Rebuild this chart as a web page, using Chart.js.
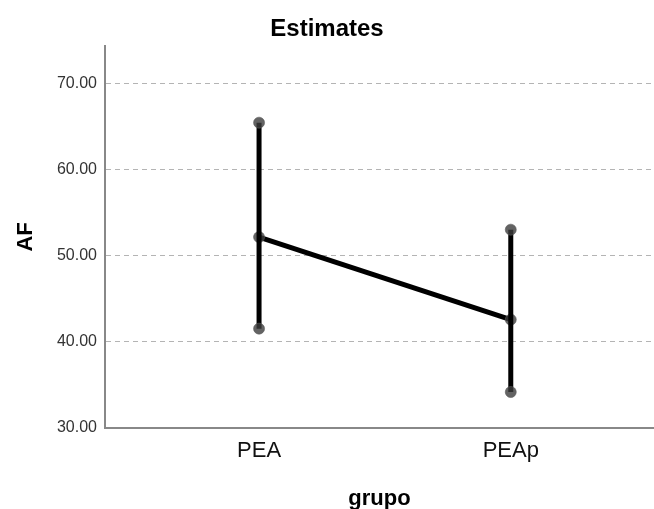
<!DOCTYPE html>
<html>
<head>
<meta charset="utf-8">
<script src="https://cdn.jsdelivr.net/npm/chart.js@4/dist/chart.umd.min.js"></script>
<style>
  html, body { margin: 0; padding: 0; background: #fff; }
  #wrap { width: 654px; height: 509px; }
</style>
</head>
<body>
<div id="wrap"><canvas id="estChart" width="654" height="509"></canvas></div>
<script>
// values
var groups = ['PEA', 'PEAp'];
var means = [52.18, 42.59];
var upper = [65.47, 53.04];
var lower = [41.54, 34.18];
var yTicks = [30, 40, 50, 60, 70];

document.addEventListener('DOMContentLoaded', function(){
    var font = '"Liberation Sans", Arial, Helvetica, sans-serif';
    var dotColor = 'rgba(60,60,60,0.8)';

    var datasets = [];
    // error bars, one per group
    groups.forEach(function(g, i){
        datasets.push({
            label: g + ' CI',
            data: [{x: i, y: lower[i]}, {x: i, y: upper[i]}],
            showLine: true,
            borderColor: '#000',
            borderWidth: 5,
            pointRadius: 5.5,
            pointBackgroundColor: dotColor,
            pointBorderColor: 'rgba(90,90,90,0.6)',
            pointBorderWidth: 1
        });
    });
    // line through the means
    datasets.push({
        label: 'Mean',
        data: groups.map(function(g, i){ return {x: i, y: means[i]}; }),
        showLine: true,
        borderColor: '#000',
        borderWidth: 5,
        pointRadius: 5.5,
        pointBackgroundColor: dotColor,
        pointBorderColor: 'rgba(90,90,90,0.6)',
        pointBorderWidth: 1
    });

    new Chart(document.getElementById('estChart'), {
        type: 'scatter',
        data: { datasets: datasets },
        options: {
            responsive: false,
            animation: false,
            layout: { padding: 0, autoPadding: false },
            plugins: {
                legend: { display: false },
                tooltip: { enabled: false },
                title: {
                    display: true,
                    text: 'Estimates',
                    color: '#000',
                    font: { family: font, size: 24, weight: 'bold' },
                    padding: { top: 15, bottom: 2 }
                }
            },
            scales: {
                x: {
                    type: 'linear',
                    min: -0.612,
                    max: 1.569,
                    afterFit: function(s){ s.height = 81; s.paddingLeft = 0; s.paddingRight = 0; },
                    grid: { display: false, drawTicks: false },
                    border: { color: '#888', width: 2 },
                    ticks: {
                        stepSize: 1,
                        includeBounds: false,
                        padding: 10,
                        color: '#111',
                        font: { family: font, size: 22 },
                        callback: function(v){ return groups[v] !== undefined && Number.isInteger(v) ? groups[v] : ''; }
                    },
                    title: {
                        display: true,
                        text: 'grupo',
                        color: '#000',
                        font: { family: font, size: 22, weight: 'bold' },
                        padding: { top: 16, bottom: -3 }
                    }
                },
                y: {
                    min: yTicks[0],
                    max: 74.4,
                    afterFit: function(s){ s.width = 105; },
                    afterBuildTicks: function(s){ s.ticks = yTicks.map(function(v){ return {value: v}; }); },
                    grid: {
                        drawTicks: false,
                        color: function(c){ return c.tick && c.tick.value === yTicks[0] ? 'rgba(0,0,0,0)' : '#b4b4b4'; },
                        lineWidth: 1
                    },
                    border: { color: '#888', width: 2, dash: [5, 4] },
                    ticks: {
                        padding: 8,
                        color: '#333',
                        font: { family: font, size: 16 },
                        callback: function(v){ return Number(v).toFixed(2); }
                    },
                    title: {
                        display: true,
                        text: 'AF',
                        color: '#000',
                        font: { family: font, size: 22, weight: 'bold' },
                        padding: { top: 13, bottom: 10 }
                    }
                }
            }
        }
    });
});
</script>
</body>
</html>
